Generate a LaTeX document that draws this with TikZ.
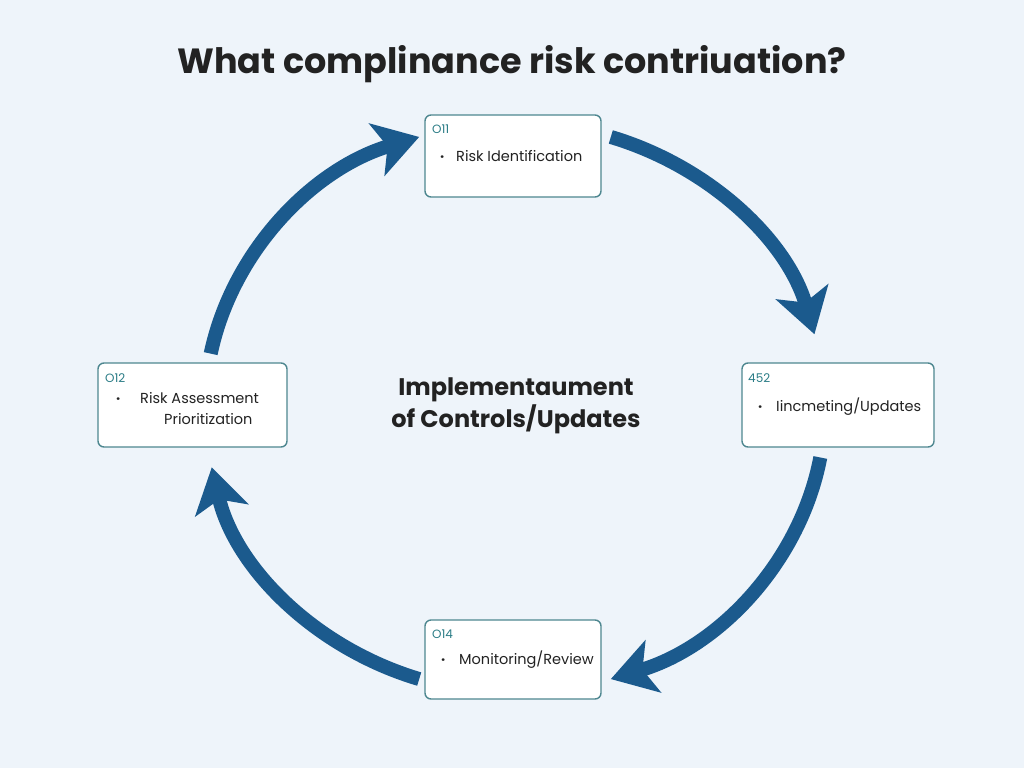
\documentclass[tikz,border=0pt]{standalone}
\usepackage{fontspec}
\setmainfont{Poppins}
\usetikzlibrary{arrows.meta,calc}
\definecolor{bg}{HTML}{EEF4FA}
\definecolor{arr}{HTML}{1B5A8D}
\definecolor{boxline}{HTML}{4E8790}
\definecolor{tag}{HTML}{2A7C86}
\definecolor{ink}{HTML}{222222}
\tikzset{
  stagebox/.style={draw=boxline, line width=1.4pt, fill=white, rounded corners=6pt, inner sep=0pt},
  tagtext/.style={anchor=base west, inner sep=0pt, font=\fontsize{12}{14}\selectfont, text=tag},
  itemtext/.style={anchor=base west, inner sep=0pt, font=\fontsize{14.5}{17}\selectfont, text=ink},
  dottext/.style={anchor=base west, inner sep=0pt, font=\fontsize{14}{16}\selectfont\bfseries, text=ink},
  cyclearrow/.style={draw=arr, line width=14pt, -{Stealth[length=44pt, width=54pt, inset=11pt]}},
}
\begin{document}
\begin{tikzpicture}[x=1pt,y=1pt]
\fill[bg] (0,0) rectangle (1024,-768);
\useasboundingbox (0,0) rectangle (1024,-768);

% title
\node[font=\fontsize{35}{42}\selectfont\bfseries, text=ink] (title) at (512,-64) {What complinance risk contriuation?};

% centre text
\node[font=\fontsize{24}{32}\selectfont\bfseries, text=ink, align=center] (centre) at (516,-406) {Implementaument\\of Controls/Updates};

% cycle arrows (ellipse centre (515,-408), radii 310 and 285)
\coordinate (c) at (515,-408);
\coordinate (s1) at ($(c)+(72:310 and 285)$);
\coordinate (s2) at ($(c)+(-10:310 and 285)$);
\coordinate (s3) at ($(c)+(-108:310 and 285)$);
\coordinate (s4) at ($(c)+(169:310 and 285)$);
\draw[cyclearrow] (s1) arc[start angle=72, end angle=15, x radius=310, y radius=285];
\draw[cyclearrow] (s2) arc[start angle=-10, end angle=-72, x radius=310, y radius=285];
\draw[cyclearrow] (s3) arc[start angle=-108, end angle=-168, x radius=310, y radius=285];
\draw[cyclearrow] (s4) arc[start angle=169, end angle=108, x radius=310, y radius=285];

% boxes
\node[stagebox, minimum width=176pt, minimum height=82pt] (top) at (513,-156) {};
\node[stagebox, minimum width=189pt, minimum height=84pt] (left) at (192.5,-405) {};
\node[stagebox, minimum width=192pt, minimum height=84pt] (right) at (838,-405) {};
\node[stagebox, minimum width=176pt, minimum height=79pt] (bottom) at (513,-659.5) {};

% top box text
\node[tagtext] (t1) at (432,-133) {O11};
\node[dottext] (d1) at (440,-161) {·};
\node[itemtext] (i1) at (456,-161) {Risk Identification};

% left box text
\node[tagtext] (t2) at (105,-382) {O12};
\node[dottext] (d2) at (116,-403) {·};
\node[itemtext] (i2a) at (140,-403) {Risk Assessment};
\node[itemtext] (i2b) at (164,-424) {Prioritization};

% right box text
\node[tagtext] (t3) at (748,-382) {452};
\node[dottext] (d3) at (758,-411) {·};
\node[itemtext] (i3) at (776,-411) {Iincmeting/Updates};

% bottom box text
\node[tagtext] (t4) at (432,-638) {O14};
\node[dottext] (d4) at (441,-664) {·};
\node[itemtext] (i4) at (459,-664) {Monitoring/Review};
\end{tikzpicture}
\end{document}
